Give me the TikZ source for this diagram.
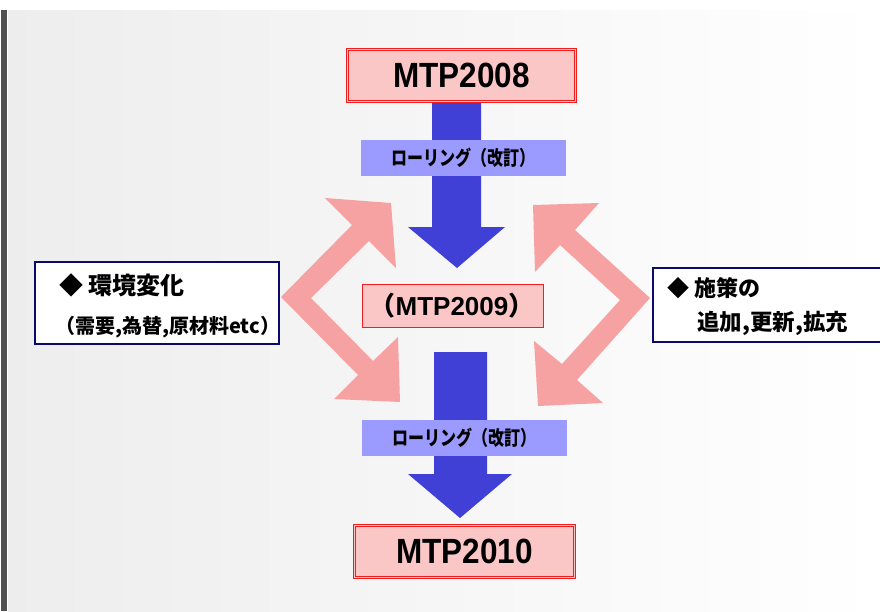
\documentclass[tikz,border=0pt]{standalone}
\usepackage{graphicx}
\usepackage{fontspec}
\setmainfont{Liberation Sans}
\newfontfamily\cjk{Noto Sans CJK JP}
\definecolor{boxred}{RGB}{240,30,30}
\definecolor{boxpink}{RGB}{250,198,198}
\definecolor{chevpink}{RGB}{247,162,162}
\definecolor{arrblue}{RGB}{64,64,214}
\definecolor{labblue}{RGB}{155,155,255}
\definecolor{navy}{RGB}{10,10,110}
\definecolor{barGray}{RGB}{80,80,80}
\begin{document}
\begin{tikzpicture}[x=1pt,y=-1pt,
  mtpbox/.style={draw=boxred, line width=0.9pt, double=boxpink, double distance=1.6pt, fill=boxpink, inner sep=0pt},
  midbox/.style={draw=boxred, line width=0.9pt, fill=boxpink, inner sep=0pt},
  labbox/.style={fill=labblue, inner sep=0pt},
  infobox/.style={draw=navy, line width=2.4pt, fill=white, inner sep=0pt},
  bluearrow/.style={fill=arrblue},
  chevron/.style={fill=chevpink},
  bigtxt/.style={font=\bfseries\fontsize{35}{40}\selectfont, inner sep=0pt},
  jtxt/.style={font=\cjk\bfseries, inner sep=0pt, anchor=west}]
\useasboundingbox (0,0) rectangle (880,611);
\clip (0,0) rectangle (880,611);
% background
\fill[white] (0,0) rectangle (880,611);
\shade[left color=black!7, right color=white] (8,10) rectangle (880,611);
\fill[barGray] (1,10) rectangle (7,611);

% chevrons
\fill[chevron] (281,297) -- (352,225) -- (325,198) -- (391,203) -- (396,268) -- (369,241)
  -- (311,298) -- (373,361) -- (398,337) -- (400,402) -- (334,399) -- (358,375) -- cycle;
\fill[chevron] (650,298) -- (575,230) -- (599,203) -- (533,205) -- (535,272) -- (560,245)
  -- (620,300) -- (562,364) -- (534,341) -- (538,406) -- (603,403) -- (577,380) -- cycle;

% boxes
\node[mtpbox, minimum width=228pt, minimum height=52pt] (m08) at (461.5,75.5) {};
\node[midbox, minimum width=181pt, minimum height=43pt] (m09) at (452.5,305.5) {};
\node[mtpbox, minimum width=220pt, minimum height=52pt] (m10) at (464.5,551.5) {};

% blue arrows
\fill[bluearrow] (432,103) -- (432,227) -- (408,227) -- (457,268) -- (505,227) -- (481,227) -- (481,103) -- cycle;
\fill[bluearrow] (434,352) -- (434,474) -- (408,474) -- (460,518) -- (512,474) -- (487,474) -- (487,352) -- cycle;

% labels on arrows
\node[labbox, minimum width=205pt, minimum height=36pt] (lab1) at (463.5,158) {};
\node[labbox, minimum width=205pt, minimum height=36pt] (lab2) at (464.5,438) {};
\node[inner sep=0pt] (lt1) at (lab1) {\cjk\bfseries\fontsize{20}{24}\selectfont\scalebox{0.8}[1]{ローリング（改訂）}};
\node[inner sep=0pt] (lt2) at (lab2) {\cjk\bfseries\fontsize{20}{24}\selectfont\scalebox{0.8}[1]{ローリング（改訂）}};

% box texts
\node[bigtxt] (t08) at (m08) {\scalebox{0.9}[1]{MTP2008}};
\node[bigtxt] (t10) at (m10) {\scalebox{0.9}[1]{MTP2010}};
\node[inner sep=0pt] (t09) at (452,305.5) {\cjk\bfseries\fontsize{26}{30}\selectfont （\fontspec{Liberation Sans}\bfseries MTP2009\cjk\bfseries ）};

% info boxes
\node[infobox, minimum width=244pt, minimum height=82pt] (env) at (157,303) {};
\node[infobox, minimum width=240pt, minimum height=74pt] (pol) at (773,305) {};
\node[jtxt] (e1) at (59,285) {\fontsize{24}{28}\selectfont ◆ 環境変化};
\node[jtxt] (e2) at (55,327) {\fontsize{20}{24}\selectfont （需要,為替,原材料etc）};
\node[jtxt] (p1) at (667,288) {\fontsize{22}{26}\selectfont ◆ 施策の};
\node[jtxt] (p2) at (697,323) {\fontsize{22.5}{26}\selectfont 追加,更新,拡充};
\end{tikzpicture}
\end{document}
